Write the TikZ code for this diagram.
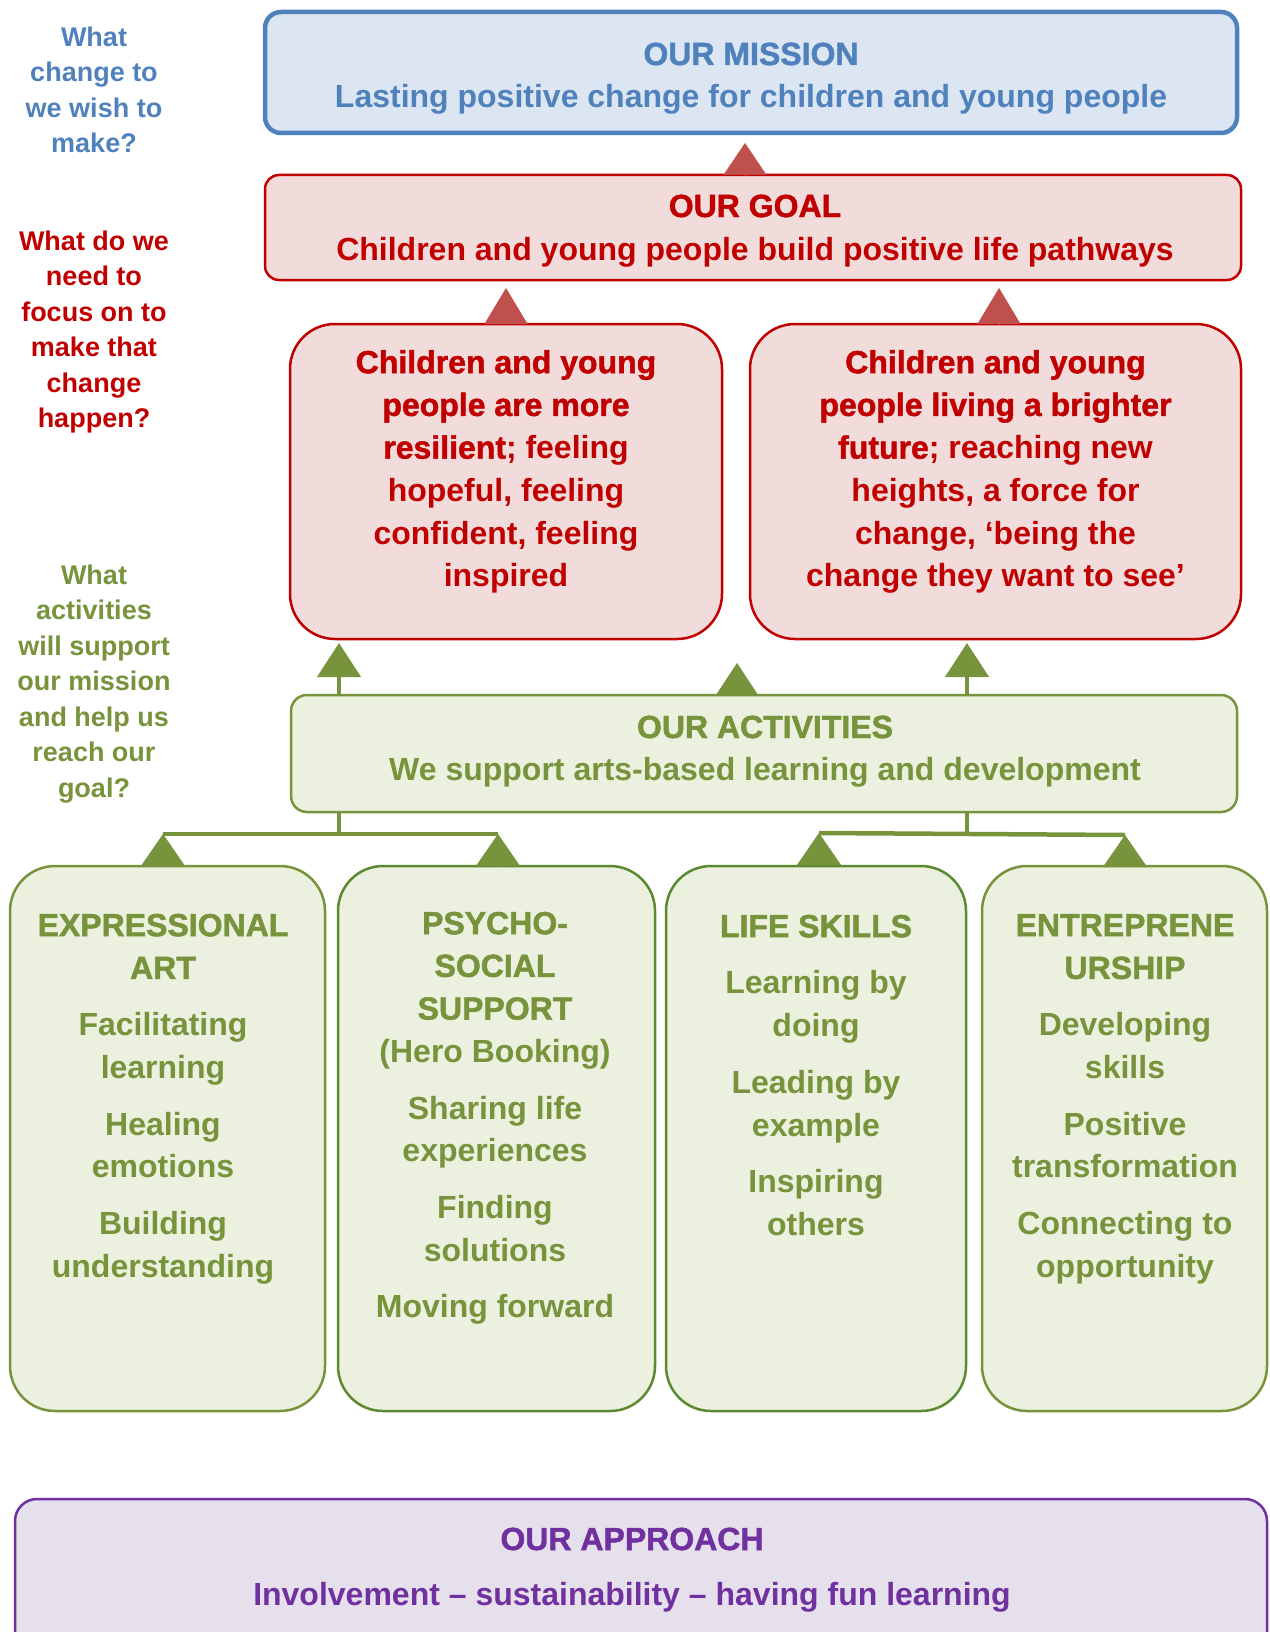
\documentclass[tikz,border=0pt]{standalone}
\usepackage{fontspec}
\setmainfont{Liberation Sans}
\newfontfamily\heavy[FakeBold=1.5]{Liberation Sans}
\usetikzlibrary{arrows.meta}
\definecolor{cblue}{HTML}{4F81BD}
\definecolor{cbluefill}{HTML}{DCE6F2}
\definecolor{cred}{HTML}{C00000}
\definecolor{credfill}{HTML}{F2DCDB}
\definecolor{credtri}{HTML}{C0504D}
\definecolor{cgreen}{HTML}{77933C}
\definecolor{cgreendk}{HTML}{5B8A30}
\definecolor{cgreenfill}{HTML}{EBF1DE}
\definecolor{cpurple}{HTML}{7030A0}
\definecolor{cpurplefill}{HTML}{E6E0EC}
\newcommand\tsA{\rule{0pt}{30pt}}
\newcommand\tsB{\rule{0pt}{24pt}}
\begin{document}
\begin{tikzpicture}[x=1pt,y=1pt,
  basebox/.style={inner sep=0pt, outer sep=0pt},
  bluebox/.style={basebox, draw=cblue, fill=cbluefill, line width=4.5pt, rounded corners=16pt},
  redbox/.style={basebox, draw=cred, fill=credfill, line width=2.5pt, rounded corners=14pt},
  greenbox/.style={basebox, draw=cgreen, fill=cgreenfill, line width=2.5pt, rounded corners=16pt},
  purplebox/.style={basebox, draw=cpurple, fill=cpurplefill, line width=2.5pt, rounded corners=22pt},
  txt/.style={inner sep=0pt, align=center, font=\bfseries\fontsize{32}{42.7}\selectfont},
  qtxt/.style={inner sep=0pt, align=center, anchor=north, font=\bfseries\fontsize{27}{35.5}\selectfont},
  gline/.style={draw=cgreen, line width=4.5pt},
  garrow/.style={gline, -{Triangle[length=34pt,width=43pt]}},
  gtip/.style={draw=cgreen, line width=0.5pt, -{Triangle[length=#1,width=44pt]}},
  rtip/.style={draw=credtri, line width=0.5pt, -{Triangle[length=#1,width=43pt]}}
]
\useasboundingbox (0,0) rectangle (1269,-1632);
\clip (0,0) rectangle (1269,-1632);

% boxes
\node[bluebox, minimum width=972pt, minimum height=121pt] (mission) at (751,-72.5) {};
\node[redbox, minimum width=976pt, minimum height=105pt] (goal) at (753,-227.5) {};
\node[redbox, rounded corners=45pt, minimum width=432pt, minimum height=315pt] (out1) at (506,-481.5) {};
\node[redbox, rounded corners=45pt, minimum width=491pt, minimum height=315pt] (out2) at (995.5,-481.5) {};
\node[greenbox, minimum width=946pt, minimum height=117pt] (act) at (764,-753.5) {};
\node[greenbox, rounded corners=45pt, minimum width=315pt, minimum height=545pt] (b1) at (167.5,-1138.5) {};
\node[greenbox, draw=cgreendk, rounded corners=45pt, minimum width=317pt, minimum height=545pt] (b2) at (496.5,-1138.5) {};
\node[greenbox, draw=cgreendk, rounded corners=45pt, minimum width=300pt, minimum height=545pt] (b3) at (816,-1138.5) {};
\node[greenbox, rounded corners=45pt, minimum width=285pt, minimum height=545pt] (b4) at (1124.5,-1138.5) {};
\node[purplebox, minimum width=1252pt, minimum height=181pt] (appr) at (641,-1589.5) {};

% connectors
\coordinate (mt) at ([xshift=-8pt]goal.north);
\coordinate (o2t) at ([xshift=3.5pt]out2.north);
\coordinate (am) at ([xshift=-27pt]act.north);
\coordinate (tl) at (339,-643);
\coordinate (tr) at (967,-643);
\coordinate (tm) at (737,-663);
\coordinate (h1) at (163,-834);
\coordinate (h2) at (498,-834);
\coordinate (h3) at (819,-833);
\coordinate (h4) at (1125,-835);

\draw[rtip=32pt, shorten >=10pt] (mt) -- (mt |- mission.south);
\draw[rtip=36pt, shorten >=8pt] (out1.north) -- (out1.north |- goal.south);
\draw[rtip=36pt, shorten >=8pt] (o2t) -- (o2t |- goal.south);

\draw[garrow] (act.north -| tl) -- (tl);
\draw[garrow] (act.north -| tr) -- (tr);
\draw[draw=cgreen, line width=0.5pt, -{Triangle[length=32pt,width=42pt]}] (am) -- (tm);

\draw[gline] (act.south -| tl) -- (tl |- h1);
\draw[gline] (h1) -- (h2);
\draw[gline] (act.south -| tr) -- (tr |- h3);
\draw[gline] (h3) -- (h4);
\draw[gtip=32pt] (h1 |- b1.north) -- (h1);
\draw[gtip=32pt] (h2 |- b2.north) -- (h2);
\draw[gtip=32pt] (h3 |- b3.north) -- (h3);
\draw[gtip=32pt] (h4 |- b4.north) -- (h4);

% left questions
\node[qtxt, text=cblue] (q1) at (94,-22) {\tsB What\\change to\\we wish to\\make?};
\node[qtxt, text=cred] (q2) at (94,-226) {\tsB What do we\\need to\\focus on to\\make that\\change\\happen?};
\node[qtxt, text=cgreen] (q3) at (94,-560) {\tsB What\\activities\\will support\\our mission\\and help us\\reach our\\goal?};

% box texts
\node[txt, anchor=base, text=cblue] (missiont) at (751,-65) {\heavy OUR MISSION};
\node[txt, anchor=base, text=cblue] (missions) at (751,-108) {Lasting positive change for children and young people};
\node[txt, anchor=base, text=cred] (goalt) at (755,-217) {\heavy OUR GOAL};
\node[txt, anchor=base, text=cred] (goals) at (755,-260) {Children and young people build positive life pathways};

\node[txt, anchor=north, text=cred] (out1t) at (506,-343) {\tsA{\heavy Children and young}\\{\heavy people are more}\\{\heavy resilient}; feeling\\hopeful, feeling\\confident, feeling\\inspired};
\node[txt, anchor=north, text=cred] (out2t) at (995.5,-343) {\tsA{\heavy Children and young}\\{\heavy people living a brighter}\\{\heavy future}; reaching new\\heights, a force for\\change, ‘being the\\change they want to see’};

\node[txt, anchor=base, text=cgreen] (actt) at (765,-738) {\heavy OUR ACTIVITIES};
\node[txt, anchor=base, text=cgreen] (acts) at (765,-780) {We support arts-based learning and development};

\node[txt, anchor=north, text=cgreen] (b1t) at (163,-906) {\tsA{\heavy EXPRESSIONAL}\\{\heavy ART}\\[14pt]Facilitating\\learning\\[14pt]Healing\\emotions\\[14pt]Building\\understanding};
\node[txt, anchor=north, text=cgreen] (b2t) at (495,-904) {\tsA{\heavy PSYCHO-}\\{\heavy SOCIAL}\\{\heavy SUPPORT}\\(Hero Booking)\\[14pt]Sharing life\\experiences\\[14pt]Finding\\solutions\\[14pt]Moving forward};
\node[txt, anchor=north, text=cgreen] (b3t) at (816,-907) {\tsA{\heavy LIFE SKILLS}\\[14pt]Learning by\\doing\\[14pt]Leading by\\example\\[14pt]Inspiring\\others};
\node[txt, anchor=north, text=cgreen] (b4t) at (1125,-906) {\tsA{\heavy ENTREPRENE}\\{\heavy URSHIP}\\[14pt]Developing\\skills\\[14pt]Positive\\transformation\\[14pt]Connecting to\\opportunity};

\node[txt, anchor=base, text=cpurple] (apprt) at (632,-1550) {\heavy OUR APPROACH};
\node[txt, anchor=base, text=cpurple] (apprs) at (632,-1605) {Involvement – sustainability – having fun learning};
\end{tikzpicture}
\end{document}
